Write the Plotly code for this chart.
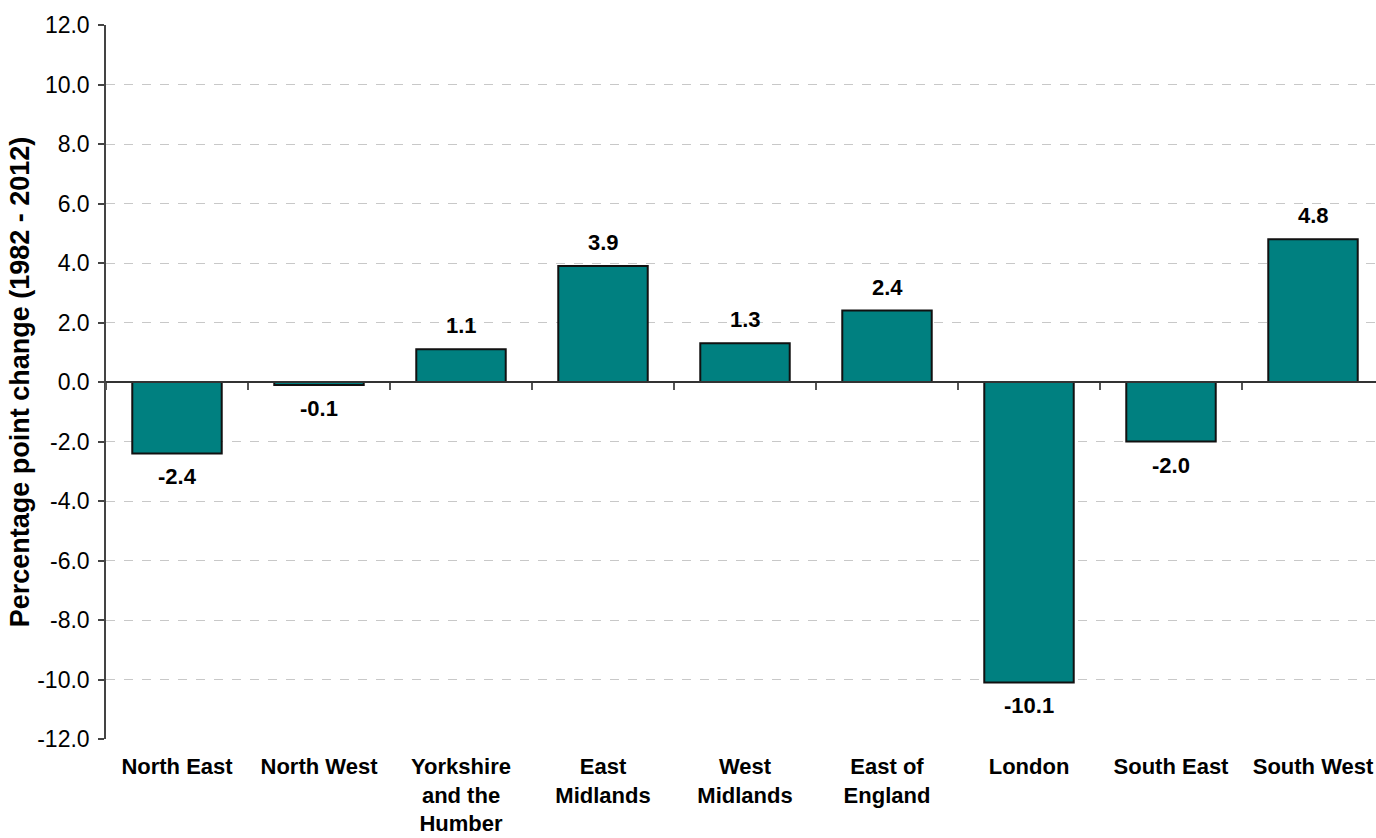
import plotly.graph_objects as go

# Regional percentage point change, 1982 - 2012
regions = ["North East", "North West", "Yorkshire and the Humber", "East Midlands",
           "West Midlands", "East of England", "London", "South East", "South West"]
region_labels = ["North East", "North West", "Yorkshire<br>and the<br>Humber", "East<br>Midlands",
                 "West<br>Midlands", "East of<br>England", "London", "South East", "South West"]
change = [-2.4, -0.1, 1.1, 3.9, 1.3, 2.4, -10.1, -2.0, 4.8]
y_ticks = [-12, -10, -8, -6, -4, -2, 0, 2, 4, 6, 8, 10, 12]
y_tick_text = [f"{t:.1f}" for t in y_ticks]

FONT = "Arial, Liberation Sans, sans-serif"
TEAL = "#008080"

fig = go.Figure()

fig.add_trace(go.Bar(
    x=regions, y=change,
    marker=dict(color=TEAL, line=dict(color="#111111", width=2)),
    width=0.63,
    hoverinfo="x+y",
))

# invisible helper so the zero-line axis (with boundary ticks) is drawn
fig.add_trace(go.Scatter(
    x=regions, y=change, xaxis="x2", mode="markers",
    marker=dict(opacity=0), hoverinfo="skip", showlegend=False,
))

# value labels above positive bars, below negative bars
for r, v in zip(regions, change):
    fig.add_annotation(
        x=r, y=v, text=f"{v:.1f}", showarrow=False,
        yanchor="bottom" if v >= 0 else "top",
        yshift=9 if v >= 0 else -9,
        font=dict(family=FONT, size=22, color="black", weight="bold"),
    )

x_range = [-0.5, -0.5 + 1270 / 142]

fig.update_layout(
    width=1376, height=838,
    margin=dict(l=106, r=0, t=25, b=99, autoexpand=False),
    paper_bgcolor="white", plot_bgcolor="white",
    showlegend=False,
    xaxis=dict(
        type="category", categoryorder="array", categoryarray=regions,
        range=x_range, automargin=False,
        tickmode="array", tickvals=regions, ticktext=region_labels,
        tickfont=dict(family=FONT, size=22, color="black", weight="bold"),
        showline=False, showgrid=False, ticks="", zeroline=False,
        ticklabelstandoff=12,
    ),
    xaxis2=dict(
        type="category", categoryorder="array", categoryarray=regions,
        overlaying="x", anchor="free", position=0.5, side="bottom",
        range=x_range, automargin=False,
        showticklabels=False, showgrid=False, zeroline=False,
        showline=True, linecolor="#333333", linewidth=1.5,
        ticks="outside", tickson="boundaries", ticklen=7, tickcolor="#555555", tickwidth=1.5,
    ),
    yaxis=dict(
        range=[-12, 12], automargin=False,
        tickmode="array", tickvals=y_ticks, ticktext=y_tick_text,
        tickfont=dict(family=FONT, size=23, color="black"),
        ticklabelstandoff=4,
        showline=True, linecolor="#444444", linewidth=1.5,
        ticks="outside", ticklen=6, tickcolor="#444444", tickwidth=1.5,
        showgrid=True, gridcolor="#c8c8c8", griddash="dash", gridwidth=1,
        zeroline=False,
        title=dict(text="Percentage point change (1982 - 2012)",
                   font=dict(family=FONT, size=27, color="black", weight="bold"),
                   standoff=0),
    ),
)

fig.write_html("out.html")
